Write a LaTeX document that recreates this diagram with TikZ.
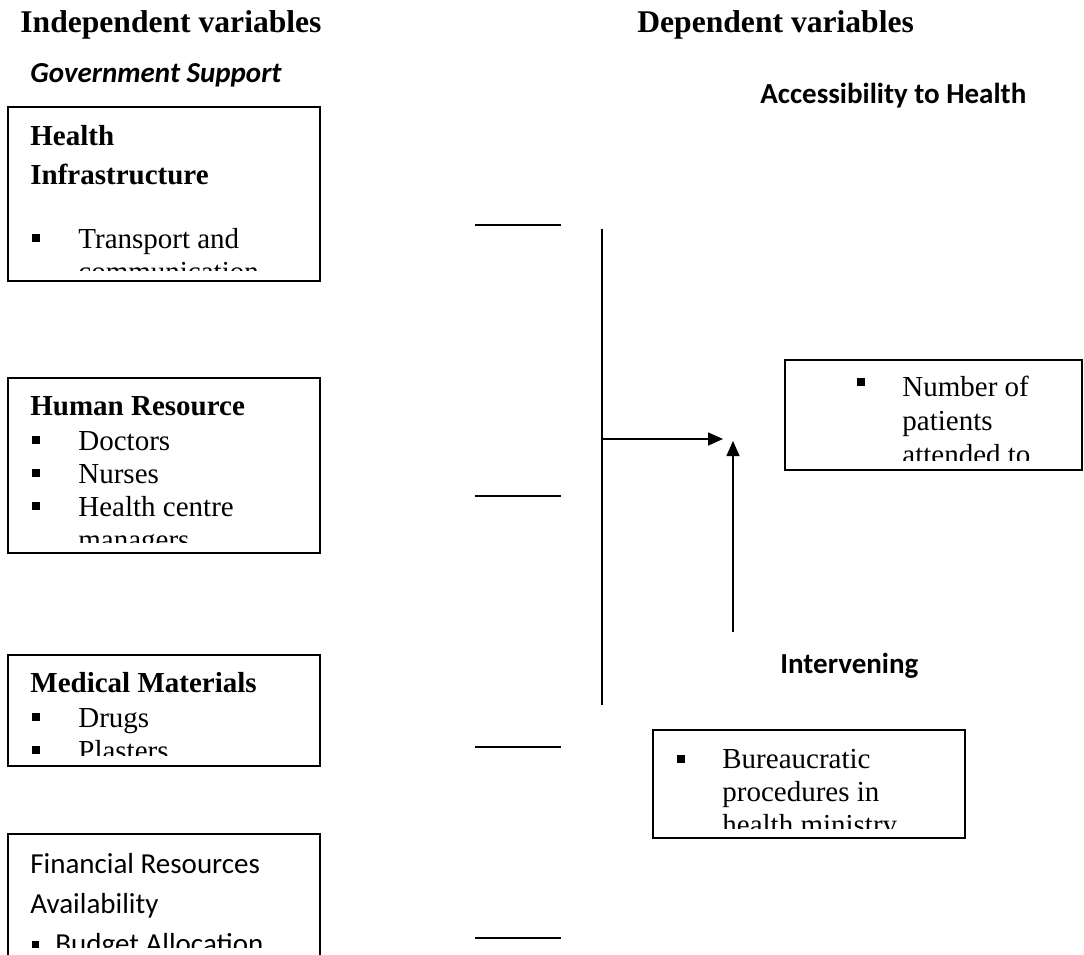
\documentclass[tikz,border=0pt]{standalone}
\usepackage{fontspec}
\setmainfont{Liberation Serif}
\newfontfamily\calibri{Carlito}
\usetikzlibrary{arrows.meta}

\tikzset{
  txt/.style={anchor=base west, inner sep=0pt, font=\fontsize{14.5}{17}\selectfont},
  txtb/.style={txt, font=\fontsize{14.5}{17}\selectfont\bfseries},
  head/.style={anchor=base west, inner sep=0pt, font=\fontsize{15.8}{19}\selectfont\bfseries},
  sans/.style={anchor=base west, inner sep=0pt, font=\fontsize{14.5}{17}\selectfont\calibri},
  sansb/.style={sans, font=\fontsize{14.5}{17}\selectfont\calibri\bfseries},
  frame/.style={draw=black, line width=0.9pt},
  link/.style={line width=0.8pt},
  tip/.style={-{Triangle[length=7.5pt,width=6.5pt]}}
}
% small square bullet, centred at (#1,#2)
\newcommand{\blt}[2]{\fill (#1-4,#2-4) rectangle (#1+4,#2+4);}

\begin{document}
\begin{tikzpicture}[x=0.5pt, y=-0.5pt]
\useasboundingbox (0,0) rectangle (1084,955);

\node[head] (indep) at (20,32) {Independent variables};
\node[head] (dep) at (637,32) {Dependent variables};
\node[sansb, font=\fontsize{14.5}{17}\selectfont\calibri\bfseries\itshape] (gov) at (30,82) {Government Support};
\node[sansb] (access) at (760,103) {Accessibility to Health};
\node[sansb] (interv) at (780,673) {Intervening};

% box: health infrastructure
\begin{scope}
\clip (8,107) rectangle (320,270);
\node[txtb] (hi1) at (30,145) {Health};
\node[txtb] (hi2) at (30,184) {Infrastructure};
\blt{36}{238}
\node[txt] (hi3) at (78,248) {Transport and};
\node[txt] (hi4) at (78,281) {communication};
\end{scope}
\draw[frame] (8,107) rectangle (320,281);

% box: human resource
\begin{scope}
\clip (8,378) rectangle (320,542);
\node[txtb] (hr1) at (30,415) {Human Resource};
\blt{36}{440}
\node[txt] (hr2) at (78,450) {Doctors};
\blt{36}{473}
\node[txt] (hr3) at (78,483) {Nurses};
\blt{36}{506}
\node[txt] (hr4) at (78,516) {Health centre};
\node[txt] (hr5) at (78,549) {managers};
\end{scope}
\draw[frame] (8,378) rectangle (320,553);

% box: medical materials
\begin{scope}
\clip (8,655) rectangle (320,755);
\node[txtb] (mm1) at (30,692) {Medical Materials};
\blt{36}{717}
\node[txt] (mm2) at (78,727) {Drugs};
\blt{36}{750}
\node[txt] (mm3) at (78,760) {Plasters};
\end{scope}
\draw[frame] (8,655) rectangle (320,766);

% box: financial resources
\begin{scope}
\clip (8,834) rectangle (320,947);
\node[sans] (fr1) at (30,873) {Financial Resources};
\node[sans] (fr2) at (30,913) {Availability};
\fill (32,941) rectangle (39,948);
\node[sans] (fr3) at (55,953) {Budget Allocation};
\end{scope}
\draw[frame] (8,960) -- (8,834) -- (320,834) -- (320,960);

% box: number of patients
\begin{scope}
\clip (785,360) rectangle (1083,460);
\blt{861}{382}
\node[txt] (np1) at (902,396) {Number of};
\node[txt] (np2) at (902,430) {patients};
\node[txt] (np3) at (902,464) {attended to};
\end{scope}
\draw[frame] (785,360) rectangle (1082,470);

% box: bureaucratic procedures
\begin{scope}
\clip (653,730) rectangle (965,828);
\blt{681}{759}
\node[txt] (bp1) at (722,768) {Bureaucratic};
\node[txt] (bp2) at (722,801) {procedures in};
\node[txt] (bp3) at (722,834) {health ministry};
\end{scope}
\draw[frame] (653,730) rectangle (965,838);

% short lines
\foreach \y [count=\i] in {225,496,747,938} {
  \coordinate (s\i a) at (475,\y);
  \coordinate (s\i b) at (561,\y);
  \draw[link] (s\i a) -- (s\i b);
}

\coordinate (vtop) at (602,229);
\coordinate (vbot) at (602,705);
\draw[link] (vtop) -- (vbot);

\coordinate (ain) at (602,439);
\coordinate (atip) at (723,439);
\draw[link, tip] (ain) -- (atip);

\coordinate (bin) at (733,632);
\coordinate (btip) at (733,441);
\draw[link, tip] (bin) -- (btip);

\end{tikzpicture}
\end{document}
